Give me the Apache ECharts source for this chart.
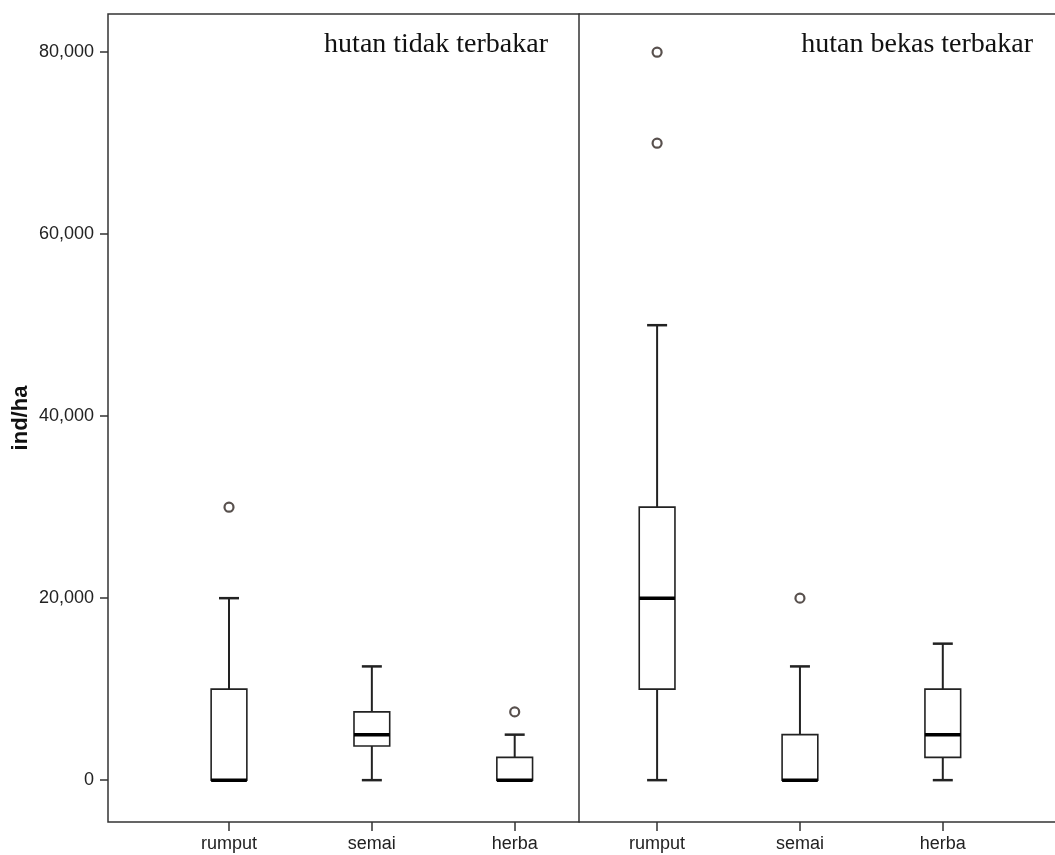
<!DOCTYPE html>
<html>
<head>
<meta charset="utf-8">
<script src="https://cdn.jsdelivr.net/npm/echarts@6/dist/echarts.min.js"></script>
<style>
html,body{margin:0;padding:0;background:#fff;overflow:hidden;}
#chart{width:1055px;height:855px;}
</style>
</head>
<body>
<div id="chart"></div>
<script>
// ---- data ----
const categories = ['rumput', 'semai', 'herba'];
const panelTitles = ['hutan tidak terbakar', 'hutan bekas terbakar'];
const yAxisName = 'ind/ha';
const yTicks = [0, 20000, 40000, 60000, 80000];
// [min, Q1, median, Q3, max]
const unburnedBoxes = [
  [0, 0, 0, 10000, 20000],
  [0, 3750, 5000, 7500, 12500],
  [0, 0, 0, 2500, 5000]
];
const burnedBoxes = [
  [0, 10000, 20000, 30000, 50000],
  [0, 0, 0, 5000, 12500],
  [0, 2500, 5000, 10000, 15000]
];
const unburnedOutliers = [['rumput', 30000], ['herba', 7500]];
const burnedOutliers = [['rumput', 70000], ['rumput', 80000], ['semai', 20000]];

// ---- layout / style ----
const Y_MIN = -4600, Y_MAX = 84200;
const TOP = 14, HEIGHT = 808;
const BAND = 142.85;
const lineColor = '#222';
const frameColor = '#333';

function renderBox(params, api) {
  const i = api.value(0);
  const pMin = api.coord([i, api.value(1)]);
  const pQ1 = api.coord([i, api.value(2)]);
  const pMed = api.coord([i, api.value(3)]);
  const pQ3 = api.coord([i, api.value(4)]);
  const pMax = api.coord([i, api.value(5)]);
  const band = api.size([1, 0])[0];
  const cx = pMed[0];
  const bw = band * 0.25, cw = band * 0.14;
  const ln = (x1, y1, x2, y2, w, c) => ({ type: 'line', shape: { x1, y1, x2, y2 },
    style: { stroke: c || lineColor, lineWidth: w } });
  return {
    type: 'group',
    children: [
      ln(cx, pMax[1], cx, pQ3[1], 2),
      ln(cx, pQ1[1], cx, pMin[1], 2),
      ln(cx - cw / 2, pMax[1], cx + cw / 2, pMax[1], 2.5),
      ln(cx - cw / 2, pMin[1], cx + cw / 2, pMin[1], 2.5),
      { type: 'rect', shape: { x: cx - bw / 2, y: pQ3[1], width: bw, height: pQ1[1] - pQ3[1] },
        style: { fill: '#fff', stroke: lineColor, lineWidth: 1.6 } },
      ln(cx - bw / 2, pMed[1], cx + bw / 2, pMed[1], 3.5, '#000')
    ]
  };
}

function panelSeries(boxes, outliers, gi) {
  return [
    { type: 'custom', xAxisIndex: gi, yAxisIndex: gi, renderItem: renderBox,
      encode: { x: 0, y: [1, 2, 3, 4, 5] },
      data: boxes.map((b, i) => [i].concat(b)), silent: true },
    { type: 'scatter', xAxisIndex: gi, yAxisIndex: gi, symbol: 'circle', symbolSize: 9,
      data: outliers, itemStyle: { color: '#fff', borderColor: '#2e2420', borderWidth: 2.2 },
      emphasis: { disabled: true }, silent: true }
  ];
}

const chart = echarts.init(document.getElementById('chart'), null, { renderer: 'canvas' });
const labelFont = { fontFamily: 'Liberation Sans, Arial, sans-serif', fontSize: 18, color: '#222' };
const titleFont = { fontFamily: 'Liberation Serif, serif', fontSize: 28, fontWeight: 'normal', color: '#111' };
const frameLine = { show: true, onZero: false, lineStyle: { color: frameColor, width: 1.5 } };

chart.setOption({
  backgroundColor: '#fff',
  animation: false,
  title: [
    { text: panelTitles[0], right: 502, top: 26, textStyle: titleFont },
    { text: panelTitles[1], right: 17, top: 26, textStyle: titleFont }
  ],
  grid: [
    { left: 229 - BAND / 2, width: BAND * 3, top: TOP, height: HEIGHT },
    { left: 657.1 - BAND / 2, width: BAND * 3, top: TOP, height: HEIGHT },
    { left: 108, width: 471, top: TOP, height: HEIGHT, show: true, borderColor: frameColor, borderWidth: 1.5, backgroundColor: 'transparent' },
    { left: 579, width: 476, top: TOP, height: HEIGHT }
  ],
  xAxis: [0, 1].map(gi => ({
    type: 'category', gridIndex: gi, data: categories, position: 'bottom',
    axisLine: { show: false, onZero: false },
    axisTick: { show: true, alignWithLabel: true, length: 9, lineStyle: { color: frameColor, width: 1.5 } },
    axisLabel: Object.assign({ margin: 13 }, labelFont),
    splitLine: { show: false }
  })).concat([
    { type: 'value', gridIndex: 2, show: false },
    { type: 'value', gridIndex: 3, position: 'bottom', axisLine: frameLine,
      axisTick: { show: false }, axisLabel: { show: false }, splitLine: { show: false } },
    { type: 'value', gridIndex: 3, position: 'top', axisLine: frameLine,
      axisTick: { show: false }, axisLabel: { show: false }, splitLine: { show: false } }
  ]),
  yAxis: [
    { type: 'value', gridIndex: 0, min: Y_MIN, max: Y_MAX, offset: 229 - BAND / 2 - 108,
      name: yAxisName, nameLocation: 'middle', nameGap: 76,
      nameTextStyle: { fontFamily: 'Liberation Sans, Arial, sans-serif', fontSize: 22, fontWeight: 'bold', color: '#111' },
      axisLine: { show: false },
      axisTick: { show: true, length: 8, customValues: yTicks, lineStyle: { color: frameColor, width: 1.5 } },
      axisLabel: Object.assign({ margin: 14, customValues: yTicks,
        formatter: v => v.toLocaleString('en-US') }, labelFont),
      splitLine: { show: false } },
    { type: 'value', gridIndex: 1, min: Y_MIN, max: Y_MAX, show: false, splitLine: { show: false } },
    { type: 'value', gridIndex: 2, show: false },
    { type: 'value', gridIndex: 3, show: false }
  ],
  series: panelSeries(unburnedBoxes, unburnedOutliers, 0).concat(panelSeries(burnedBoxes, burnedOutliers, 1))
});
</script>
</body>
</html>
